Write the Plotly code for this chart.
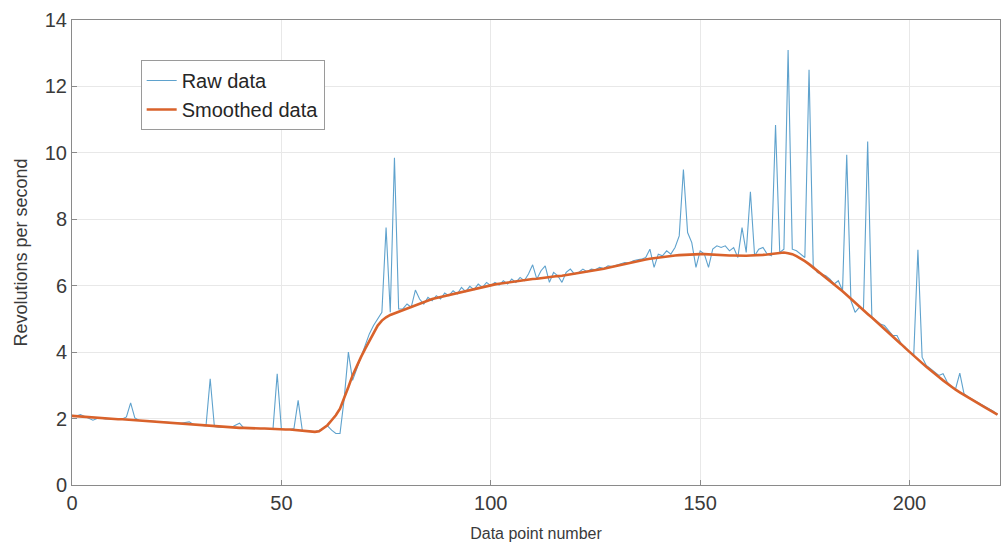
import plotly.graph_objects as go

# Data point numbers
x_index = list(range(222))

raw_data = [
    2.10, 2.08, 2.12, 2.07, 2.02, 1.95, 2.00, 2.01, 1.99, 2.00,
    1.99, 1.98, 1.99, 2.05, 2.47, 2.02, 1.95, 1.94, 1.93, 1.92,
    1.91, 1.91, 1.89, 1.88, 1.87, 1.86, 1.86, 1.88, 1.90, 1.82,
    1.80, 1.79, 1.78, 3.20, 1.76, 1.74, 1.74, 1.74, 1.73, 1.80,
    1.86, 1.72, 1.71, 1.71, 1.70, 1.70, 1.70, 1.69, 1.69, 3.35,
    1.68, 1.67, 1.67, 1.70, 2.55, 1.64, 1.63, 1.62, 1.60, 1.64,
    1.72, 1.78, 1.65, 1.55, 1.55, 2.60, 4.00, 3.15, 3.50, 3.85,
    4.25, 4.55, 4.80, 5.00, 5.20, 7.75, 5.20, 9.85, 5.30, 5.30,
    5.45, 5.35, 5.87, 5.60, 5.45, 5.65, 5.55, 5.70, 5.60, 5.78,
    5.70, 5.85, 5.75, 5.95, 5.82, 5.98, 5.88, 6.05, 5.95, 6.10,
    6.00, 6.10, 6.02, 6.15, 6.05, 6.20, 6.10, 6.25, 6.15, 6.35,
    6.63, 6.20, 6.45, 6.60, 6.10, 6.40, 6.30, 6.10, 6.40, 6.50,
    6.35, 6.40, 6.50, 6.42, 6.50, 6.48, 6.55, 6.52, 6.60, 6.58,
    6.62, 6.65, 6.70, 6.68, 6.75, 6.78, 6.80, 6.85, 7.10, 6.55,
    6.95, 6.90, 7.05, 6.95, 7.15, 7.50, 9.50, 7.60, 7.30, 6.55,
    7.05, 6.95, 6.55, 7.10, 7.20, 7.15, 7.20, 7.05, 7.15, 6.85,
    7.75, 7.00, 8.83, 6.90, 7.10, 7.15, 6.95, 6.90, 10.84, 7.00,
    7.10, 13.10, 7.10, 7.05, 6.95, 6.85, 12.50, 6.60, 6.40, 6.35,
    6.30, 6.20, 6.05, 6.15, 5.85, 9.94, 5.55, 5.20, 5.35, 5.30,
    10.34, 5.05, 4.95, 4.85, 4.80, 4.65, 4.50, 4.50, 4.25, 4.15,
    4.00, 3.90, 7.08, 3.85, 3.60, 3.50, 3.40, 3.30, 3.35, 3.10,
    2.95, 2.90, 3.37, 2.75, 2.65, 2.58, 2.50, 2.45, 2.36, 2.30,
    2.22, 2.12,
]

smoothed_data = [
    2.08, 2.07, 2.06, 2.05, 2.03, 2.02, 2.01, 2.00, 2.00, 1.99,
    1.99, 1.98, 1.98, 1.97, 1.97, 1.96, 1.95, 1.94, 1.93, 1.92,
    1.92, 1.91, 1.89, 1.88, 1.87, 1.86, 1.85, 1.84, 1.82, 1.81,
    1.80, 1.79, 1.78, 1.77, 1.76, 1.75, 1.74, 1.74, 1.73, 1.72,
    1.72, 1.72, 1.71, 1.71, 1.70, 1.70, 1.70, 1.69, 1.69, 1.68,
    1.68, 1.67, 1.67, 1.66, 1.65, 1.64, 1.63, 1.61, 1.60, 1.62,
    1.70, 1.80, 1.95, 2.10, 2.30, 2.60, 2.95, 3.30, 3.60, 3.85,
    4.10, 4.35, 4.60, 4.80, 4.95, 5.05, 5.12, 5.17, 5.22, 5.26,
    5.30, 5.35, 5.40, 5.45, 5.50, 5.55, 5.60, 5.63, 5.66, 5.69,
    5.72, 5.75, 5.78, 5.82, 5.85, 5.88, 5.91, 5.94, 5.97, 6.00,
    6.02, 6.04, 6.06, 6.08, 6.10, 6.12, 6.14, 6.15, 6.17, 6.18,
    6.20, 6.21, 6.23, 6.24, 6.26, 6.27, 6.29, 6.30, 6.32, 6.33,
    6.35, 6.37, 6.39, 6.41, 6.43, 6.45, 6.48, 6.51, 6.54, 6.57,
    6.60, 6.63, 6.66, 6.69, 6.72, 6.75, 6.77, 6.79, 6.81, 6.83,
    6.85, 6.87, 6.88, 6.90, 6.91, 6.92, 6.93, 6.94, 6.94, 6.95,
    6.95, 6.95, 6.94, 6.94, 6.93, 6.92, 6.92, 6.91, 6.91, 6.90,
    6.90, 6.90, 6.91, 6.91, 6.92, 6.93, 6.94, 6.96, 6.97, 6.99,
    7.00, 6.98, 6.95, 6.89, 6.82, 6.74, 6.65, 6.55, 6.45, 6.35,
    6.25, 6.15, 6.05, 5.95, 5.83, 5.72, 5.60, 5.49, 5.38, 5.26,
    5.15, 5.04, 4.93, 4.82, 4.71, 4.60, 4.48, 4.36, 4.24, 4.12,
    4.00, 3.89, 3.78, 3.67, 3.56, 3.45, 3.35, 3.25, 3.15, 3.05,
    2.95, 2.87, 2.79, 2.71, 2.63, 2.55, 2.48, 2.41, 2.34, 2.27,
    2.20, 2.12,
]

x_ticks = [0, 50, 100, 150, 200]
y_ticks = [0, 2, 4, 6, 8, 10, 12, 14]

FONT = "Liberation Sans, Arial, sans-serif"

fig = go.Figure()
fig.add_trace(go.Scatter(
    x=x_index, y=raw_data, mode="lines", name="Raw data",
    line=dict(color="#5fa2cd", width=1.1),
))
fig.add_trace(go.Scatter(
    x=x_index, y=smoothed_data, mode="lines", name="Smoothed data",
    line=dict(color="#D9622B", width=2.6),
))

axis_common = dict(
    showline=True, mirror=True, linecolor="#8a8a8a", linewidth=1,
    showgrid=True, gridcolor="#e8e8e8", gridwidth=1,
    ticks="inside", ticklen=5, tickcolor="#8a8a8a",
    zeroline=False, automargin=False,
    tickfont=dict(family=FONT, size=20, color="#3a3a3a"),
)

fig.update_layout(
    width=1002, height=547,
    margin=dict(l=72, r=2, t=20, b=62),
    paper_bgcolor="white", plot_bgcolor="white",
    showlegend=True,
    legend=dict(
        x=0.074, y=0.914, xanchor="left", yanchor="top",
        bgcolor="white", bordercolor="#9a9a9a", borderwidth=1,
        font=dict(family=FONT, size=20, color="#262626"),
        tracegroupgap=0,
    ),
    xaxis=dict(
        range=[0, 221.6], tickvals=x_ticks,
        title=dict(text="Data point number", standoff=14,
                   font=dict(family=FONT, size=16, color="#3a3a3a")),
        **axis_common,
    ),
    yaxis=dict(
        range=[0, 14], tickvals=y_ticks,
        title=dict(text="Revolutions per second", standoff=12,
                   font=dict(family=FONT, size=18, color="#3a3a3a")),
        **axis_common,
    ),
)

fig.write_html("out.html")
